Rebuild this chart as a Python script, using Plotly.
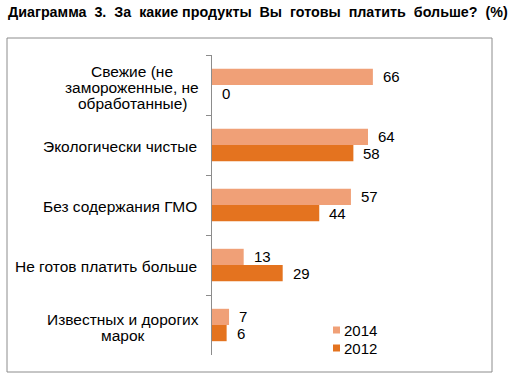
import plotly.graph_objects as go

categories = ["Свежие (не<br>замороженные, не<br>обработанные)",
              "Экологически чистые",
              "Без содержания ГМО",
              "Не готов платить больше",
              "Известных и дорогих<br>марок"]
years = ["2014", "2012"]
values_2014 = [66, 64, 57, 13, 7]
values_2012 = [0, 58, 44, 29, 6]
colors = {"2014": "#F0A077", "2012": "#E4731F"}

W, H = 523, 374
L, R, T, B = 212, 407, 55, 355
pw, ph = R - L, B - T

def px_x(p):
    return (p - L) / pw

def px_y(p):
    return (B - p) / ph

FONT = "Liberation Sans, Arial, sans-serif"
CAT_SIZE = 15.5

# approximate Arial/Liberation Sans advance widths (em/1000) for centring multi-line labels
CW = {"а": 556, "б": 573, "в": 531, "г": 365, "д": 583, "е": 556, "ж": 669, "з": 458,
      "и": 559, "к": 438, "л": 583, "м": 688, "н": 552, "о": 556, "п": 542, "р": 556,
      "с": 500, "т": 458, "у": 500, "х": 500, "ч": 521, "ш": 802, "ы": 719, "ь": 521,
      "С": 722, "И": 722, " ": 278, "(": 333, ")": 333, ",": 278}

def text_w(s, size):
    return sum(CW.get(ch, 556) for ch in s) / 1000 * size

fig = go.Figure()
for yr, vals in zip(years, [values_2014, values_2012]):
    fig.add_trace(go.Bar(
        y=categories, x=vals, name=yr, orientation="h",
        marker=dict(color=colors[yr], line=dict(width=0)),
        showlegend=False,
    ))

# data labels
offset_idx = {"2014": -1, "2012": 1}
for yr, vals in zip(years, [values_2014, values_2012]):
    for c, v in zip(categories, vals):
        fig.add_annotation(
            x=v, y=c, xref="x", yref="y", text=str(v), showarrow=False,
            xanchor="left", yanchor="middle", xshift=8,
            yshift=-offset_idx[yr] * 8.5,
            font=dict(family=FONT, size=15, color="#000000"),
        )

# category labels (one annotation per line for tight line spacing, centred block)
LINE = 16
RIGHT_EDGE = 199
for c in categories:
    lines = c.split("<br>")
    n = len(lines)
    if n == 1:
        fig.add_annotation(
            x=px_x(RIGHT_EDGE), y=c, xref="paper", yref="y", text=lines[0], showarrow=False,
            xanchor="right", yanchor="middle", yshift=-1,
            font=dict(family=FONT, size=CAT_SIZE, color="#000000"),
        )
        continue
    wmax = max(text_w(s, CAT_SIZE) for s in lines)
    cx = RIGHT_EDGE - wmax / 2
    for k, ln in enumerate(lines):
        fig.add_annotation(
            x=px_x(cx), y=c, xref="paper", yref="y", text=ln, showarrow=False,
            xanchor="center", yanchor="middle",
            yshift=-((k - (n - 1) / 2) * LINE) - 2,
            font=dict(family=FONT, size=CAT_SIZE, color="#000000"),
        )

# title
fig.add_annotation(
    x=px_x(6), y=px_y(12), xref="paper", yref="paper",
    text="<b>Диаграмма  3.  За  какие продукты  Вы  готовы  платить  больше?  (%)</b>",
    showarrow=False, xanchor="left", yanchor="middle",
    font=dict(family=FONT, size=14.3, color="#000000"),
)

# frame
fig.add_shape(type="rect", xref="paper", yref="paper",
              x0=px_x(7), x1=px_x(492), y0=px_y(372), y1=px_y(38),
              line=dict(color="#8C8C8C", width=1), fillcolor="rgba(0,0,0,0)")

# legend (drawn manually for compact spacing)
for i, yr in enumerate(years):
    cy = 330 + 18 * i
    fig.add_shape(type="rect", xref="paper", yref="paper",
                  x0=px_x(333), x1=px_x(340), y0=px_y(cy + 3.5), y1=px_y(cy - 3.5),
                  line=dict(width=0), fillcolor=colors[yr])
    fig.add_annotation(x=px_x(342), y=px_y(cy), xref="paper", yref="paper",
                       text=yr, showarrow=False, xanchor="left", yanchor="middle",
                       font=dict(family=FONT, size=15, color="#000000"))

fig.update_layout(
    width=W, height=H,
    margin=dict(l=L, r=W - R, t=T, b=H - B),
    paper_bgcolor="white", plot_bgcolor="white",
    barmode="group", bargap=0.46, bargroupgap=0,
    showlegend=False,
    xaxis=dict(range=[0, 80], visible=False, showgrid=False, zeroline=False),
    yaxis=dict(autorange="reversed", showticklabels=False, showgrid=False,
               showline=True, linecolor="#8C8C8C", linewidth=1,
               ticks="outside", ticklen=5, tickcolor="#8C8C8C",
               tickson="boundaries", zeroline=False),
    font=dict(family=FONT),
)

fig.write_html("out.html", config={"displayModeBar": False},
               post_script="document.body.style.margin='0';")
